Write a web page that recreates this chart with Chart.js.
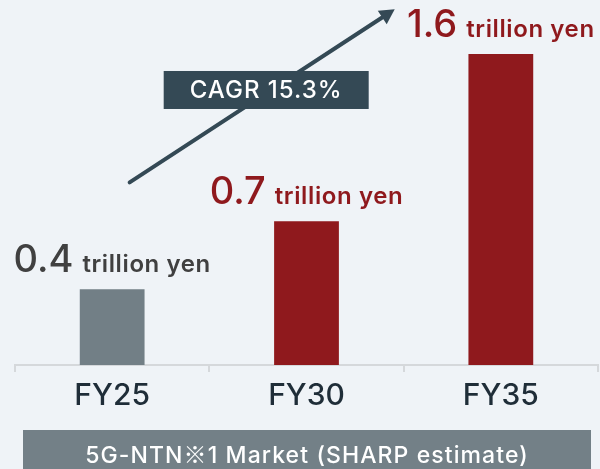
<!DOCTYPE html>
<html>
<head>
<meta charset="utf-8">
<script src="https://cdn.jsdelivr.net/npm/chart.js@4/dist/chart.umd.min.js"></script>
<style>
  html, body { margin: 0; padding: 0; background: #eff3f7; }
  #wrap { width: 600px; height: 469px; }
</style>
</head>
<body>
<div id="wrap"><canvas id="marketChart" width="600" height="469"></canvas></div>
<script>
// chart data
const categories = ["FY25", "FY30", "FY35"];
const marketValues = [0.39, 0.74, 1.6]; // bar heights
const valueLabels = ["0.4", "0.7", "1.6"];
const unitLabel = "trillion yen";
const barColors = ["#727f86", "#8f191d", "#8f191d"];
const labelColors = ["#404040", "#8f191d", "#8f191d"];
const cagrText = "CAGR 15.3%";
const footerParts = ["5G-NTN", "\u203B", "1 Market (SHARP estimate)"];

// arrow + box positions, in (category index, value) units
const arrowFrom = [0.09, 0.94];
const arrowTo = [1.454, 1.83];
const cagrCenter = [0.79, 1.415];

const FONT = "Inter, 'Noto Sans CJK JP', sans-serif";
const CJK = "'Noto Sans CJK JP', sans-serif";
const NAVY = "#344955";

const valueLabelPlugin = {
  id: "valueLabels",
  afterDatasetsDraw(chart) {
    const ctx = chart.ctx;
    const meta = chart.getDatasetMeta(0);
    meta.data.forEach((bar, i) => {
      ctx.save();
      ctx.textBaseline = "alphabetic";
      ctx.font = "500 38px " + FONT;
      ctx.letterSpacing = "0px";
      const bigW = ctx.measureText(valueLabels[i]).width;
      ctx.font = "600 24px " + FONT;
      ctx.letterSpacing = "0.6px";
      const smallW = ctx.measureText(unitLabel).width;
      const gap = 9;
      const total = bigW + gap + smallW;
      const left = bar.x - total / 2;
      const baseY = bar.y - 17;
      ctx.fillStyle = labelColors[i];
      ctx.textAlign = "left";
      ctx.font = "500 38px " + FONT;
      ctx.letterSpacing = "0px";
      ctx.fillText(valueLabels[i], left, baseY);
      ctx.font = "600 24px " + FONT;
      ctx.letterSpacing = "0.6px";
      ctx.fillText(unitLabel, left + bigW + gap, baseY);
      ctx.restore();
    });
  }
};

const decorPlugin = {
  id: "decor",
  afterDraw(chart) {
    const ctx = chart.ctx;
    const xs = chart.scales.x;
    const ys = chart.scales.y;

    // growth arrow
    const x1 = xs.getPixelForValue(arrowFrom[0]), y1 = ys.getPixelForValue(arrowFrom[1]);
    const x2 = xs.getPixelForValue(arrowTo[0]), y2 = ys.getPixelForValue(arrowTo[1]);
    const ang = Math.atan2(y2 - y1, x2 - x1);
    const head = 17;
    ctx.save();
    ctx.strokeStyle = NAVY;
    ctx.fillStyle = NAVY;
    ctx.lineWidth = 4;
    ctx.lineCap = "round";
    ctx.beginPath();
    ctx.moveTo(x1, y1);
    ctx.lineTo(x2 - Math.cos(ang) * (head - 2), y2 - Math.sin(ang) * (head - 2));
    ctx.stroke();
    ctx.beginPath();
    ctx.moveTo(x2, y2);
    ctx.lineTo(x2 - head * Math.cos(ang - 0.5), y2 - head * Math.sin(ang - 0.5));
    ctx.lineTo(x2 - head * Math.cos(ang + 0.5), y2 - head * Math.sin(ang + 0.5));
    ctx.closePath();
    ctx.fill();

    // CAGR box
    const cx = xs.getPixelForValue(cagrCenter[0]);
    const cy = ys.getPixelForValue(cagrCenter[1]);
    ctx.fillStyle = NAVY;
    ctx.fillRect(cx - 102, cy - 19, 205, 38);
    ctx.fillStyle = "#ffffff";
    ctx.font = "500 24px " + FONT;
    ctx.letterSpacing = "1px";
    ctx.textAlign = "center";
    ctx.textBaseline = "middle";
    ctx.fillText(cagrText, cx + 0.5, cy + 1);

    // footer banner
    ctx.fillStyle = "#738087";
    ctx.fillRect(23, 430, 568, 39);
    ctx.fillStyle = "#ffffff";
    ctx.textAlign = "left";
    ctx.textBaseline = "alphabetic";
    ctx.letterSpacing = "1.1px";
    const fonts = ["500 23px " + FONT, "400 23px " + CJK, "500 23px " + FONT];
    let widths = footerParts.map((t, k) => { ctx.font = fonts[k]; return ctx.measureText(t).width; });
    let fx = 307 - widths.reduce((a, b) => a + b, 0) / 2;
    footerParts.forEach((t, k) => {
      ctx.font = fonts[k];
      ctx.fillText(t, fx, 463);
      fx += widths[k];
    });
    ctx.restore();
  }
};

new Chart(document.getElementById("marketChart"), {
  type: "bar",
  data: {
    labels: categories,
    datasets: [{
      data: marketValues,
      backgroundColor: barColors,
      barPercentage: 1 / 3,
      categoryPercentage: 1
    }]
  },
  options: {
    responsive: false,
    animation: false,
    layout: { padding: { left: 15, right: 2, top: 0, bottom: 0 } },
    plugins: { legend: { display: false }, tooltip: { enabled: false } },
    scales: {
      x: {
        afterFit: (scale) => { scale.height = 104; },
        border: { display: true, color: "#d5d8db", width: 2 },
        grid: { display: true, drawOnChartArea: false, drawTicks: true, tickLength: 7, color: "#d5d8db", lineWidth: 2 },
        ticks: { color: "#1f2d38", font: { family: FONT, size: 30, weight: "500" }, padding: 6 }
      },
      y: {
        display: false,
        min: 0,
        max: 1.878
      }
    }
  },
  plugins: [valueLabelPlugin, decorPlugin]
});
</script>
</body>
</html>
